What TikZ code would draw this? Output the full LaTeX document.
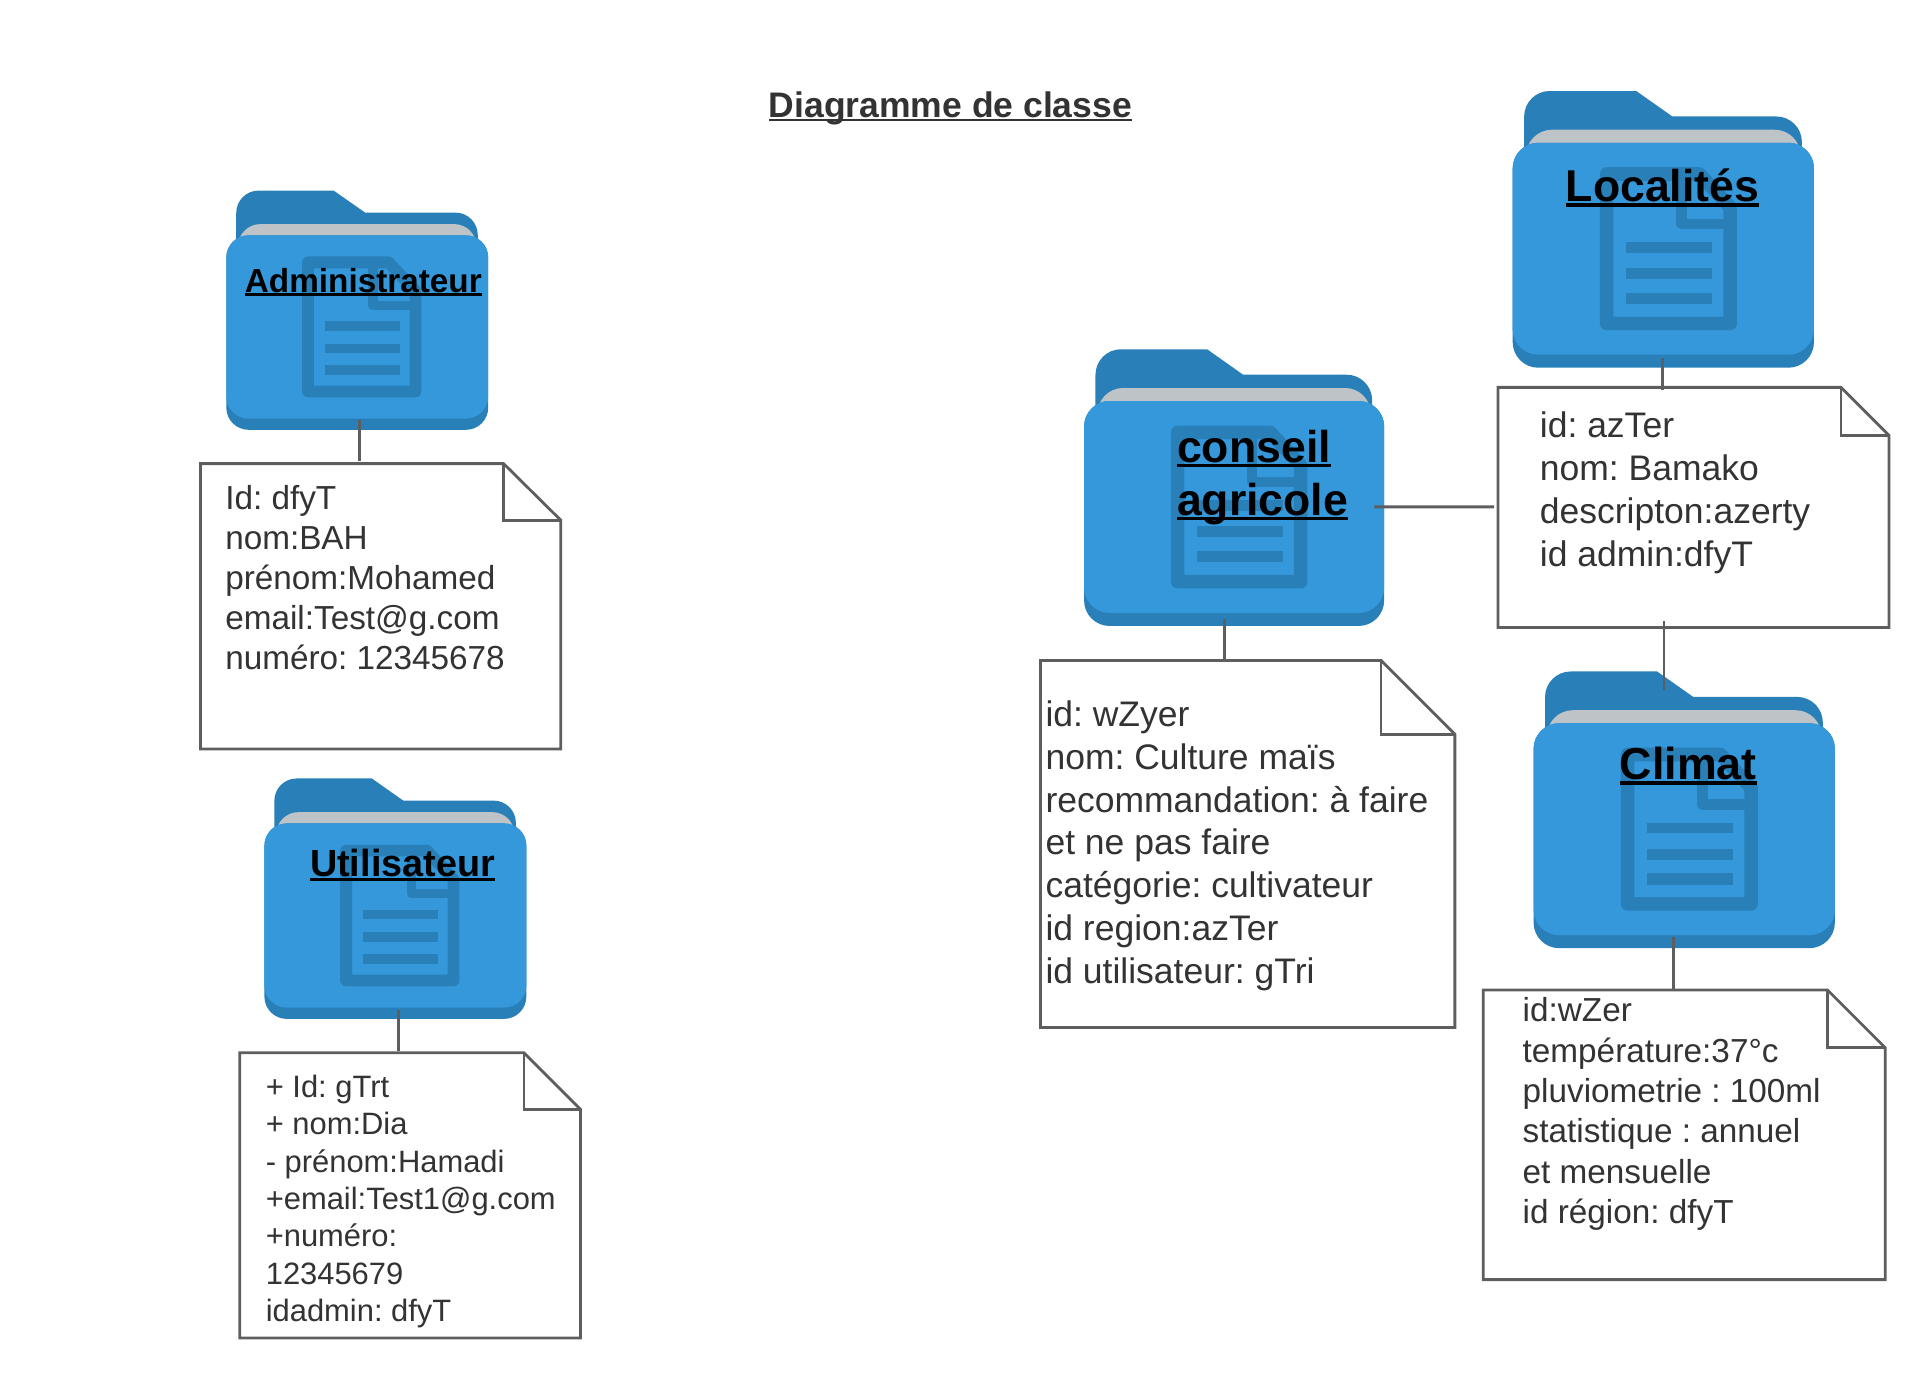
\documentclass[tikz,border=0pt]{standalone}
\usepackage{fontspec}
\setmainfont{Liberation Sans}
\usetikzlibrary{fit}
\frenchspacing
\definecolor{folderblue}{HTML}{3498DB}
\definecolor{folderdark}{HTML}{2980B9}
\definecolor{folderpaper}{HTML}{BDC3C7}
\definecolor{linegrey}{HTML}{5E5E5E}
\definecolor{inktext}{HTML}{333333}
\newcommand\myul[1]{\setbox0\hbox{#1}\rlap{\rule[-0.11em]{\wd0}{0.075em}}\box0}
\newcommand\noteline[1]{\hbox{#1}}
\newcommand\fsz[2]{\fontsize{#1}{#2}\selectfont}
\tikzset{
  notebody/.style={anchor=base west,inner sep=0pt,text=inktext},
  foldertitle/.style={anchor=base west,inner sep=0pt,text=black,font=\bfseries\fsz{#1}{53}},
  notepath/.style={draw=linegrey,line width=2.8pt,fill=white,line join=miter},
  conn/.style={draw=linegrey,line width=2.8pt},
  frame/.style={inner sep=0pt,outer sep=0pt}
}
% name, x0, y0, x1, y1
\newcommand\folderbox[5]{%
  \node[frame,fit={(#2,#3)(#4,#5)}] (#1) {};
  \pgfmathsetmacro\fw{(#4-#2)*1.2298}
  \pgfmathsetmacro\fh{(#5-#3)*1.2298}
  \pgfmathsetmacro\fr{\fw*0.085}
  \begin{scope}[shift={(#2,#3)},x=\fw pt,y=-\fh pt]
    \fill[folderdark] (.038,.3) [rounded corners=\fr pt] -- (.038,0) [sharp corners] -- (.41,0) -- (.53,.092) [rounded corners=\fr pt] -- (.96,.092) -- (.96,.3) [sharp corners] -- cycle;
    \fill[folderpaper,rounded corners=\fr pt] (.045,.4) -- (.045,.14) -- (.955,.14) -- (.955,.4) -- cycle;
    \fill[folderdark,rounded corners=\fr pt] (0,.187) rectangle (1,1);
    \fill[folderblue,rounded corners=\fr pt] (0,.187) rectangle (1,.953);
    \draw[folderdark,line width=0.045*\fw pt,line join=round] (.312,.30) -- (.62,.30) -- (.722,.42) -- (.722,.84) -- (.312,.84) -- cycle;
    \draw[folderdark,line width=0.035*\fw pt,line join=round] (.56,.30) -- (.56,.48) -- (.722,.48);
    \fill[folderdark] (.375,.546) rectangle (.663,.585);
    \fill[folderdark] (.375,.640) rectangle (.663,.680);
    \fill[folderdark] (.375,.730) rectangle (.663,.770);
  \end{scope}
}
% name, x0, y0, x1, y1, foldx, foldy
\newcommand\notebox[7]{%
  \node[frame,fit={(#2,#3)(#4,#5)}] (#1) {};
  \draw[notepath] (#2,#3) -- (#6,#3) -- (#4,#7) -- (#4,#5) -- (#2,#5) -- cycle;
  \draw[notepath,fill=none] (#6,#3) -- (#6,#7) -- (#4,#7);
}
\begin{document}
\begin{tikzpicture}[x=1.2298pt,y=-1.2298pt]
\useasboundingbox (0,0) rectangle (1567.73,1120.5);
\fill[white] (0,0) rectangle (1567.73,1120.5);

\folderbox{admin}{184}{155}{397}{349.5}
\folderbox{util}{215}{633}{428}{828.5}
\folderbox{conseil}{881.5}{284}{1125.5}{509}
\folderbox{local}{1230}{74}{1475}{299}
\folderbox{climat}{1247}{546}{1492}{771}

\notebox{noteadmin}{163}{377}{456}{609}{409.5}{423}
\notebox{noteutil}{195}{856}{472}{1088}{426}{902}
\notebox{noteconseil}{846}{537}{1183}{835.5}{1123}{597}
\notebox{notelocal}{1218}{315}{1536}{510.3}{1497}{354}
\notebox{noteclimat}{1206}{805}{1533}{1040.5}{1486}{852}

% connectors
\draw[conn] ([shift={(1.5,-8)}]admin.south) -- ([shift={(-17.5,-2)}]noteadmin.north);
\draw[conn] ([shift={(2.5,-7)}]util.south) -- ([shift={(-9.5,-1)}]noteutil.north);
\draw[conn] ([shift={(-7.5,-6)}]conseil.south) -- ([shift={(-18.5,0)}]noteconseil.north);
\draw[conn] ([shift={(-0.5,-8)}]local.south) -- ([shift={(-25,2)}]notelocal.north);
\draw[conn] ([shift={(-8,15.65)}]conseil.east) -- ([shift={(-3,-0.5)}]notelocal.west);
\draw[conn] ([shift={(-24,-5)}]notelocal.south) -- ([shift={(-16.5,15)}]climat.north);
\draw[conn] ([shift={(-8.5,-9)}]climat.south) -- ([shift={(-8.5,0)}]noteclimat.north);

% title
\node[anchor=base west,inner sep=0pt,text=inktext,font=\bfseries\fsz{35.5}{42}] (title) at (625,95.5) {\myul{Diagramme de classe}};

% folder titles
\node[foldertitle=33.3] (tadmin) at (199,237.5) {\myul{Administrateur}};
\node[foldertitle=37.8] (tutil) at (252,713) {\myul{Utilisateur}};
\node[foldertitle=44.6] (tconseil) at (957,376) {\vtop{\noteline{\myul{conseil}}\noteline{\myul{agricole}}}};
\node[foldertitle=44.6] (tlocal) at (1273,164) {\myul{Localités}};
\node[foldertitle=44.8] (tclimat) at (1317,634) {\myul{Climat}};

% note bodies
\node[notebody,font=\fsz{33.3}{40.2}] (badmin) at (183,414) {\vtop{%
  \noteline{Id: dfyT}\noteline{nom:BAH}\noteline{prénom:Mohamed}\noteline{email:Test@g.com}\noteline{numéro: 12345678}}};
\node[notebody,font=\fsz{30.9}{37.4}] (butil) at (216,892.3) {\vtop{%
  \noteline{+ Id: gTrt}\noteline{+ nom:Dia}\noteline{- prénom:Hamadi}\noteline{+email:Test1@g.com}\noteline{+numéro:}\noteline{12345679}\noteline{idadmin: dfyT}}};
\node[notebody,font=\fsz{35.5}{42.7}] (bconseil) at (850,591) {\vtop{%
  \noteline{id: wZyer}\noteline{nom: Culture maïs}\noteline{recommandation: à faire}\noteline{et ne pas faire}\noteline{catégorie: cultivateur}\noteline{id region:azTer}\noteline{id utilisateur: gTri}}};
\node[notebody,font=\fsz{35.5}{42.8}] (blocal) at (1252,356) {\vtop{%
  \noteline{id: azTer}\noteline{nom: Bamako}\noteline{descripton:azerty}\noteline{id admin:dfyT}}};
\node[notebody,font=\fsz{33.3}{40.3}] (bclimat) at (1238,831) {\vtop{%
  \noteline{id:wZer}\noteline{température:37°c}\noteline{pluviometrie : 100ml}\noteline{statistique : annuel}\noteline{et mensuelle}\noteline{id région: dfyT}}};
\end{tikzpicture}
\end{document}
